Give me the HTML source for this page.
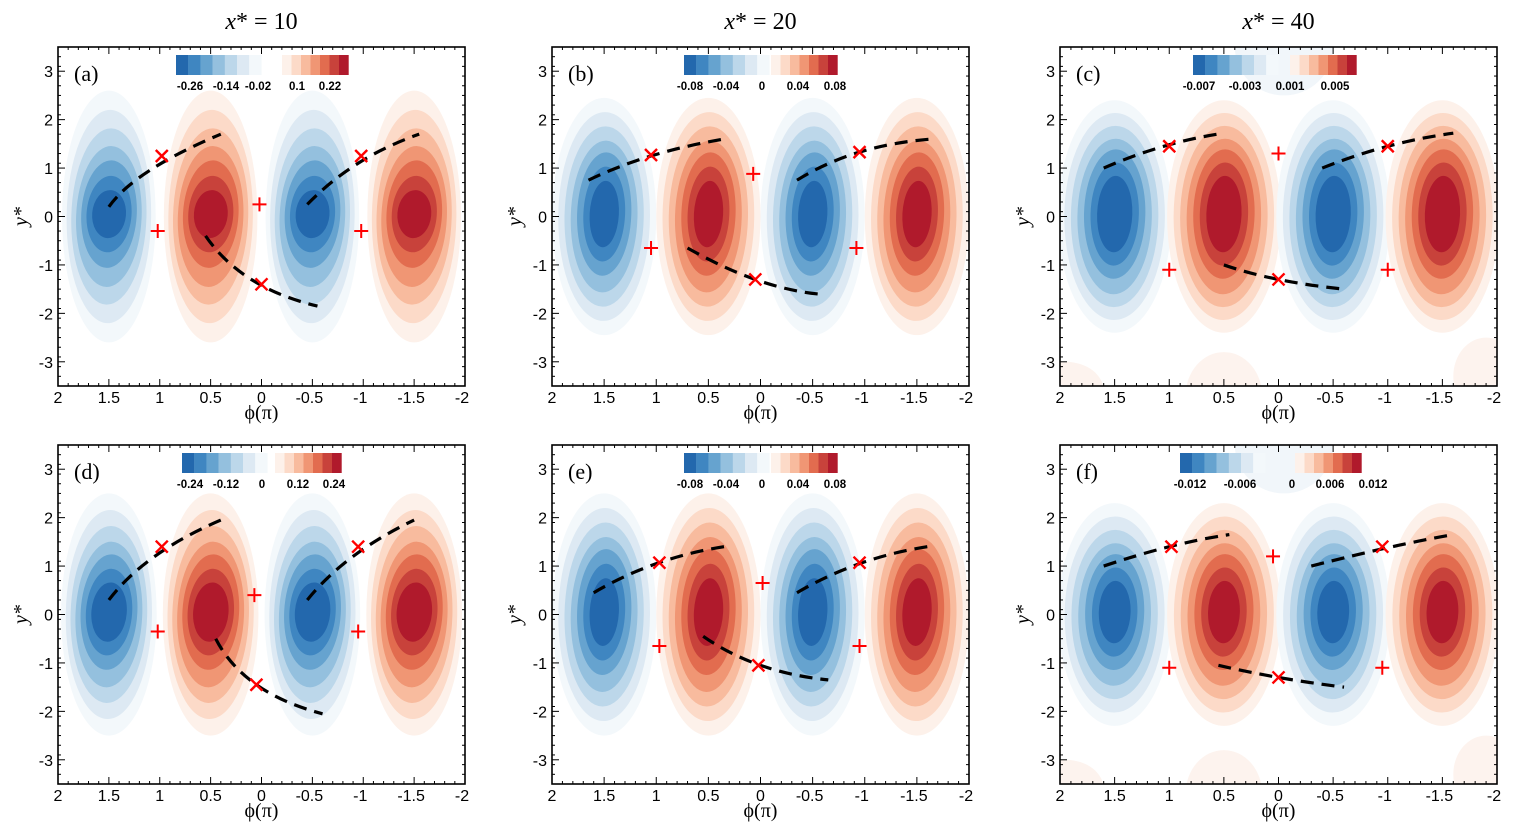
<!DOCTYPE html>
<html><head><meta charset="utf-8"><style>
html,body{margin:0;padding:0;background:#fff;}
svg{display:block;}
</style></head><body>
<svg id="s" xmlns="http://www.w3.org/2000/svg" width="1517" height="834" viewBox="0 0 1517 834"></svg>
<script>
const S=document.getElementById('s');
let out='';
const BL=['#f3f8fb','#dde9f3','#bcd7ea','#94c0de','#66a3cf','#3f86c1','#2368ad'];
const RD=['#fdf1ea','#fcdac8','#f8bb9e','#f09674','#e26c4f','#c8423b','#b01a2c'];
const panels=[
 {x0:58,y0:47,w:407,lab:'(a)',t:'10',cb:{x:176,ro:106,lb:[['-0.26',190],['-0.14',226],['-0.02',258],['0.1',297],['0.22',330]]},rx:0.46,ry:2.6,st:0.12,ex:0.8,ey:1.3,tilt:0.12,bg:false,
  c:[[[1.5,0.2],[1.1,0.95],[0.4,1.7]],[[0.55,-0.4],[0.1,-1.3],[-0.55,-1.85]],[[-0.45,0.25],[-0.95,1.1],[-1.55,1.7]]],
  X:[[0.98,1.25],[0,-1.4],[-0.98,1.25]],P:[[1.02,-0.3],[0.02,0.25],[-0.98,-0.3]]},
 {x0:552,y0:47,w:417,lab:'(b)',t:'20',cb:{x:684,ro:87,lb:[['-0.08',690],['-0.04',726],['0',762],['0.04',798],['0.08',835]]},rx:0.5,ry:2.45,st:0.12,ex:1,ey:1,tilt:0.08,bg:false,
  c:[[[1.65,0.75],[1.05,1.25],[0.35,1.6]],[[0.7,-0.65],[0.05,-1.3],[-0.55,-1.6]],[[-0.35,0.75],[-0.95,1.33],[-1.65,1.6]]],
  X:[[1.05,1.27],[0.05,-1.3],[-0.95,1.33]],P:[[1.05,-0.65],[0.07,0.88],[-0.92,-0.65]]},
 {x0:1060,y0:47,w:437,lab:'(c)',t:'40',cb:{x:1193,ro:97,lb:[['-0.007',1199],['-0.003',1245],['0.001',1290],['0.005',1335]]},rx:0.52,ry:2.4,st:0.115,ex:1,ey:0.95,tilt:0.05,bg:true,
  c:[[[1.6,1.0],[1.05,1.45],[0.5,1.72]],[[0.5,-1.0],[0,-1.3],[-0.6,-1.5]],[[-0.4,1.0],[-1,1.45],[-1.6,1.72]]],
  X:[[1,1.45],[0,-1.3],[-1,1.45]],P:[[1,-1.1],[0,1.3],[-1,-1.1]]},
 {x0:58,y0:445,w:407,lab:'(d)',t:'',cb:{x:182,ro:93,lb:[['-0.24',190],['-0.12',226],['0',262],['0.12',298],['0.24',334]]},rx:0.47,ry:2.5,st:0.115,ex:0.85,ey:1.2,tilt:0.12,bg:false,
  c:[[[1.5,0.3],[1.05,1.2],[0.4,1.95]],[[0.45,-0.5],[0.05,-1.45],[-0.6,-2.05]],[[-0.45,0.3],[-0.9,1.2],[-1.5,1.95]]],
  X:[[0.98,1.4],[0.05,-1.45],[-0.95,1.4]],P:[[1.02,-0.35],[0.07,0.4],[-0.95,-0.35]]},
 {x0:552,y0:445,w:417,lab:'(e)',t:'',cb:{x:684,ro:87,lb:[['-0.08',690],['-0.04',726],['0',762],['0.04',798],['0.08',835]]},rx:0.5,ry:2.5,st:0.12,ex:1,ey:1,tilt:0.08,bg:false,
  c:[[[1.6,0.45],[1.0,1.05],[0.35,1.4]],[[0.55,-0.45],[0,-1.05],[-0.65,-1.35]],[[-0.35,0.45],[-0.95,1.05],[-1.6,1.4]]],
  X:[[0.97,1.07],[0.02,-1.05],[-0.95,1.07]],P:[[0.97,-0.65],[-0.02,0.65],[-0.95,-0.65]]},
 {x0:1060,y0:445,w:437,lab:'(f)',t:'',cb:{x:1180,ro:115,lb:[['-0.012',1190],['-0.006',1240],['0',1292],['0.006',1330],['0.012',1373]]},rx:0.52,ry:2.3,st:0.12,ex:1,ey:1,tilt:0.05,bg:true,
  c:[[[1.6,1.0],[1.0,1.4],[0.45,1.65]],[[0.55,-1.05],[0,-1.3],[-0.6,-1.5]],[[-0.3,1.0],[-1,1.38],[-1.6,1.65]]],
  X:[[0.98,1.4],[0,-1.3],[-0.95,1.4]],P:[[1,-1.1],[0.05,1.2],[-0.95,-1.1]]},
];
const H=339;
panels.forEach((p,i)=>{
 const X=ph=>p.x0+(2-ph)*p.w/4, Y=y=>p.y0+H/2-y*H/7;
 const ux=p.w/4, uy=H/7;
 out+=`<clipPath id="c${i}"><rect x="${p.x0}" y="${p.y0}" width="${p.w}" height="${H}"/></clipPath><g clip-path="url(#c${i})">`;
 if(p.bg){
  out+=`<ellipse cx="${X(0.5)}" cy="${Y(-3.7)}" rx="${ux*0.35}" ry="${uy*0.9}" fill="#fdf3ee"/><ellipse cx="${X(1.95)}" cy="${Y(-3.6)}" rx="${ux*0.35}" ry="${uy*0.6}" fill="#fdf3ee"/><ellipse cx="${X(-1.9)}" cy="${Y(-3.3)}" rx="${ux*0.3}" ry="${uy*0.8}" fill="#fdf3ee"/><ellipse cx="${X(-0.05)}" cy="${Y(3.5)}" rx="${ux*0.45}" ry="${uy*1}" fill="#f1f6fa"/>`;}
 [1.5,0.5,-0.5,-1.5].forEach((c,j)=>{
  const cols=(j%2==0)?BL:RD;
  for(let k=0;k<7;k++){
   const s=1-k*p.st;
   const rx=p.rx*ux*Math.pow(s,p.ex), ry=p.ry*uy*Math.pow(s,p.ey);
   const cy=(k>3?0.05:0);
   out+=`<ellipse cx="${X(c)}" cy="${Y(cy)}" rx="${rx}" ry="${ry}" fill="${cols[k]}" transform="rotate(${p.tilt*40*k/6} ${X(c)} ${Y(0)})"/>`;
  }
 });
 out+='</g>';
 p.c.forEach(c=>{out+=`<path d="M${X(c[0][0])},${Y(c[0][1])} Q${2*X(c[1][0])-(X(c[0][0])+X(c[2][0]))/2},${2*Y(c[1][1])-(Y(c[0][1])+Y(c[2][1]))/2} ${X(c[2][0])},${Y(c[2][1])}" fill="none" stroke="#000" stroke-width="3.2" stroke-dasharray="13,8"/>`;});
 p.X.forEach(m=>{const x=X(m[0]),y=Y(m[1]);out+=`<path d="M${x-6},${y-6}L${x+6},${y+6}M${x+6},${y-6}L${x-6},${y+6}" stroke="#f00" stroke-width="2.4"/>`;});
 p.P.forEach(m=>{const x=X(m[0]),y=Y(m[1]);out+=`<path d="M${x-7},${y}L${x+7},${y}M${x},${y-7}L${x},${y+7}" stroke="#f00" stroke-width="2"/>`;});
 out+=`<rect x="${p.x0}" y="${p.y0}" width="${p.w}" height="${H}" fill="none" stroke="#000" stroke-width="1.6"/>`;
 for(let v=-2;v<=2.001;v+=0.1){const x=X(v);const L=Math.abs(v*2-Math.round(v*2))<0.01?7:3;out+=`<line x1="${x}" y1="${p.y0+H}" x2="${x}" y2="${p.y0+H-L}" stroke="#000"/><line x1="${x}" y1="${p.y0}" x2="${x}" y2="${p.y0+L}" stroke="#000"/>`;}
 for(let v=-3.5;v<=3.5001;v+=0.2){const y=Y(v);out+=`<line x1="${p.x0}" y1="${y}" x2="${p.x0+3}" y2="${y}" stroke="#000"/><line x1="${p.x0+p.w}" y1="${y}" x2="${p.x0+p.w-3}" y2="${y}" stroke="#000"/>`;}
 for(let v=-3;v<=3;v++){const y=Y(v);out+=`<line x1="${p.x0}" y1="${y}" x2="${p.x0+7}" y2="${y}" stroke="#000"/><text x="${p.x0-5}" y="${y+6}" text-anchor="end" font-family="Liberation Sans,sans-serif" font-size="16">${v}</text>`;}
 ['2','1.5','1','0.5','0','-0.5','-1','-1.5','-2'].forEach((t,k)=>{out+=`<text x="${X(2-k*0.5)+(t[0]=='-'?-3:0)}" y="${p.y0+H+17}" text-anchor="middle" font-family="Liberation Sans,sans-serif" font-size="16">${t}</text>`;});
 out+=`<text x="${X(0)}" y="${p.y0+H+33}" text-anchor="middle" font-family="Liberation Serif,serif" font-size="20">ϕ(π)</text>`;
 out+=`<text transform="translate(${p.x0-31},${Y(0)}) rotate(-90)" text-anchor="middle" font-family="Liberation Serif,serif" font-style="italic" font-size="20">y*</text>`;
 out+=`<text x="${p.x0+16}" y="${p.y0+34}" font-family="Liberation Serif,serif" font-size="22">${p.lab}</text>`;
 if(p.t) out+=`<text x="${X(0)}" y="29" text-anchor="middle" font-family="Liberation Serif,serif" font-size="24"><tspan font-style="italic">x</tspan>* = ${p.t}</text>`;
 const cx=p.cb.x,cy=p.y0+8;
 for(let k=0;k<7;k++){out+=`<rect x="${cx+k*12.2}" y="${cy}" width="12.4" height="20" fill="${BL[6-k]}"/>`;}
 for(let k=0;k<7;k++){out+=`<rect x="${cx+p.cb.ro+k*9.5}" y="${cy}" width="9.7" height="20" fill="${RD[k]}"/>`;}
 p.cb.lb.forEach(l=>{out+=`<text x="${l[1]}" y="${cy+35}" text-anchor="middle" font-family="Liberation Sans,sans-serif" font-weight="bold" font-size="11.5">${l[0]}</text>`;});
});
S.innerHTML=out;
</script>
</body></html>
